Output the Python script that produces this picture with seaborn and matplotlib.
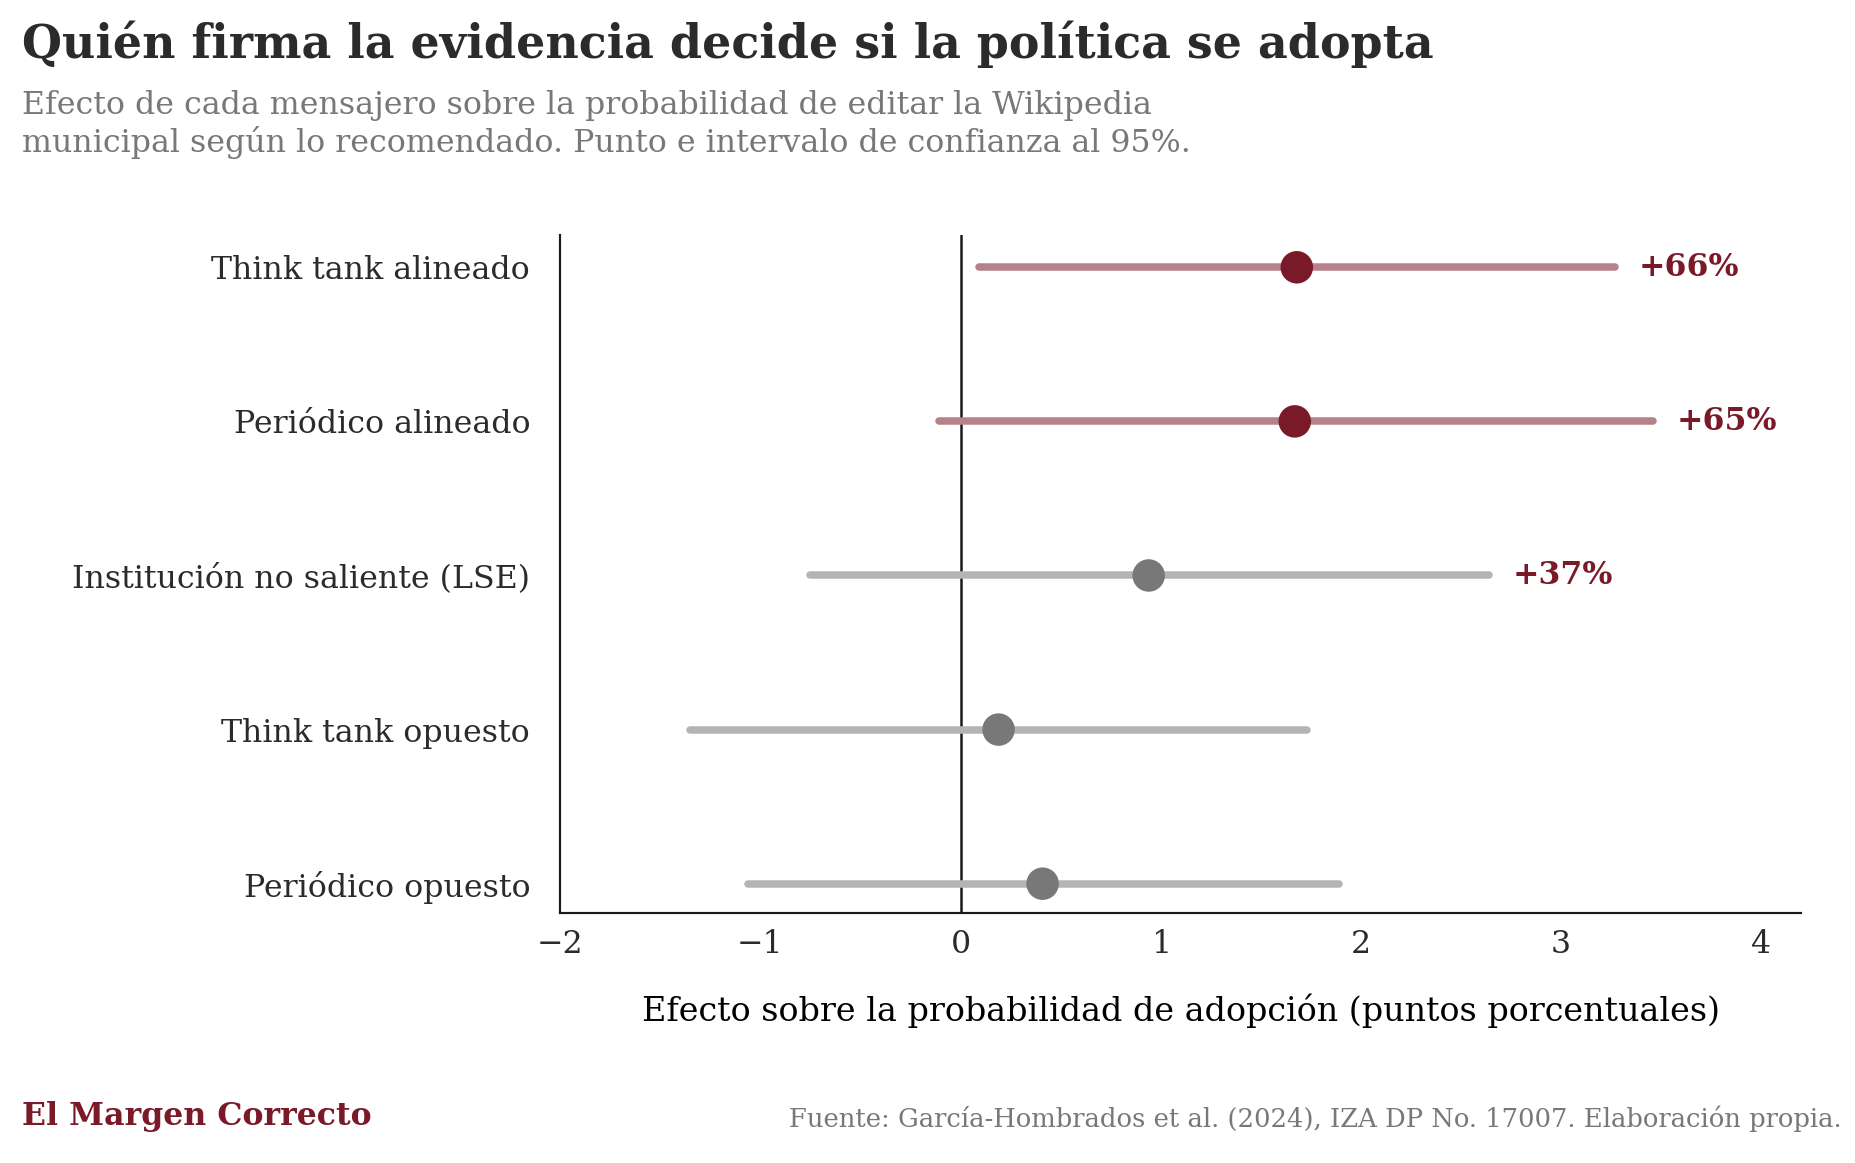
import numpy as np
import matplotlib.pyplot as plt
import seaborn as sns
import pandas as pd

# -----------------------------------------
# DATA
# -----------------------------------------
mensajeros = ["Think tank alineado", "Periódico alineado", "Institución no saliente (LSE)",
              "Think tank opuesto", "Periódico opuesto"]
efecto = [1.68, 1.67, 0.94, 0.19, 0.41]
ic_bajo = [0.09, -0.11, -0.75, -1.35, -1.06]
ic_alto = [3.27, 3.46, 2.64, 1.73, 1.89]
etiquetas = ["+66%", "+65%", "+37%", None, None]
destacado = [True, True, False, False, False]

df = pd.DataFrame({"mensajero": mensajeros, "efecto": efecto,
                   "lo": ic_bajo, "hi": ic_alto, "dest": destacado})

# -----------------------------------------
# STYLE
# -----------------------------------------
sns.set_theme(style="white")
plt.rcParams["font.family"] = ["DejaVu Serif"]

ROJO = "#7a1a28"
ROJO_CLARO = "#b5828a"
GRIS = "#787878"
GRIS_CLARO = "#b4b4b4"
TXT = "#2b2b2b"

fig = plt.figure(figsize=(1855 / 120, 1163 / 120), dpi=120)
ax = fig.add_axes([0.302, 0.215, 0.669, 0.583])

y = np.arange(len(mensajeros))
for i, row in df.iterrows():
    ax.hlines(i, row.lo, row.hi, color=ROJO_CLARO if row.dest else GRIS_CLARO,
              linewidth=4.5, capstyle="round", zorder=2)

sns.scatterplot(data=df, x="efecto", y=y, hue="dest", palette={True: ROJO, False: GRIS},
                s=380, edgecolor="none", legend=False, zorder=3, ax=ax)

for i, lab in enumerate(etiquetas):
    if lab:
        ax.text(ic_alto[i] + 0.12, i, lab, color=ROJO, fontsize=19, fontweight="bold",
                va="center", ha="left")

ax.axvline(0, color="#1a1a1a", linewidth=1.5, zorder=1)
ax.set_yticks(y)
ax.set_yticklabels(mensajeros, fontsize=19, color=TXT)
ax.set_ylim(4.19, -0.21)
ax.set_xlim(-2, 4.2)
ax.set_xticks(np.arange(-2, 5))
ax.set_xticklabels(["\u22122", "\u22121", "0", "1", "2", "3", "4"], fontsize=19, color=TXT)
ax.tick_params(axis="x", length=6, width=1.2, color=TXT)
ax.tick_params(axis="y", length=0, pad=18)
ax.set_xlabel("Efecto sobre la probabilidad de adopción (puntos porcentuales)",
              fontsize=20, labelpad=20, color="black")
ax.set_ylabel("")
sns.despine(ax=ax)
for s in ["left", "bottom"]:
    ax.spines[s].set_color("#1a1a1a")
    ax.spines[s].set_linewidth(1.3)

fig.text(0.012, 0.962, "Quién firma la evidencia decide si la política se adopta",
         fontsize=27.5, fontweight="bold", color=TXT, va="center")
fig.text(0.012, 0.893, "Efecto de cada mensajero sobre la probabilidad de editar la Wikipedia\n"
         "municipal según lo recomendado. Punto e intervalo de confianza al 95%.",
         fontsize=19, color=GRIS, va="center", linespacing=1.2)
fig.text(0.012, 0.04, "El Margen Correcto", fontsize=19, fontweight="bold", color=ROJO, va="center")
fig.text(0.993, 0.038, "Fuente: García-Hombrados et al. (2024), IZA DP No. 17007. Elaboración propia.",
         fontsize=15.5, color=GRIS, va="center", ha="right")

plt.savefig("out.png", dpi=120)
